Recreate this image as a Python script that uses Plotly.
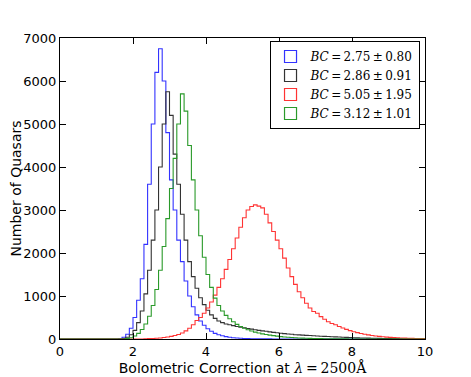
import numpy as np
import plotly.graph_objects as go

# histogram bins: 0.1 wide from 0 to 10
bin_edges = np.round(np.arange(0, 10.01, 0.1), 2)

# counts per bin, bins start at 0.0
blue_counts = [0] * 16 + [
    10, 40, 110, 250, 500, 900, 1400, 2200, 3600, 5000,      # 1.6 - 2.5
    6200, 6750, 6000, 4800, 3700, 3000, 2300, 1800, 1350, 1000,  # 2.6 - 3.5
    750, 560, 420, 320, 240, 180, 130, 100, 75, 55,          # 3.6 - 4.5
    40, 30, 22, 16, 12, 9, 7, 5, 4, 3,                        # 4.6 - 5.5
    2, 2, 1, 1, 1] + [0] * 39
black_counts = [0] * 17 + [
    10, 40, 100, 200, 380, 650, 1050, 1600, 2300, 3000,       # 1.7 - 2.6
    4000, 5000, 5750, 5200, 4300, 3600, 2900, 2300, 1800, 1450,  # 2.7 - 3.6
    1180, 960, 800, 670, 560, 480, 420, 380, 350, 330,        # 3.7 - 4.6
    310, 290, 275, 260, 245, 230, 215, 200, 190, 180,         # 4.7 - 5.6
    165, 155, 145, 135, 125, 118, 110, 100, 95, 90,           # 5.7 - 6.6
    85, 80, 75, 70, 65, 62, 58, 54, 50, 46,                   # 6.7 - 7.6
    42, 38, 34, 30, 27, 24, 22, 20, 18, 16,                   # 7.7 - 8.6
    14, 12, 11, 10, 9, 8, 7, 6, 5, 5,                         # 8.7 - 9.6
    4, 4, 3]
red_counts = [0] * 23 + [
    5, 8, 12, 18, 25, 35, 45, 60, 80, 105,                    # 2.3 - 3.2
    140, 190, 250, 330, 430, 500, 600, 720, 860, 1020,        # 3.3 - 4.2
    1200, 1400, 1620, 1850, 2100, 2350, 2600, 2820, 3000, 3080,  # 4.3 - 5.2
    3120, 3090, 3050, 2900, 2700, 2500, 2300, 2100, 1880, 1650,  # 5.3 - 6.2
    1450, 1270, 1100, 960, 830, 720, 640, 600, 520, 460,      # 6.3 - 7.2
    400, 360, 330, 290, 255, 225, 195, 170, 148, 128,         # 7.3 - 8.2
    110, 95, 82, 70, 60, 51, 44, 38, 33, 28,                  # 8.3 - 9.2
    24, 20, 17, 14, 12, 10, 8, 6]
green_counts = [0] * 18 + [
    10, 30, 70, 130, 220, 350, 530, 780, 1150, 1600,          # 1.8 - 2.7
    2150, 2800, 3500, 4200, 5000, 5700, 5300, 4500, 3700, 3000,  # 2.8 - 3.7
    2400, 1900, 1500, 1200, 950, 780, 650, 550, 470, 400,     # 3.8 - 4.7
    340, 290, 250, 215, 185, 160, 140, 120, 105, 90,          # 4.8 - 5.7
    78, 66, 56, 48, 41, 35, 30, 25, 21, 18,                   # 5.8 - 6.7
    15, 12, 10, 8, 7, 6, 5, 4, 3, 2,                          # 6.8 - 7.7
    2, 1, 1] + [0] * 19

series = [
    ("<i>BC</i>\u2009=\u20092.75\u2009\u00b1\u20090.80", blue_counts, "#3333ff"),
    ("<i>BC</i>\u2009=\u20092.86\u2009\u00b1\u20090.91", black_counts, "#333333"),
    ("<i>BC</i>\u2009=\u20095.05\u2009\u00b1\u20091.95", red_counts, "#ff3333"),
    ("<i>BC</i>\u2009=\u20093.12\u2009\u00b1\u20091.01", green_counts, "#2a9a2a"),
]

fig = go.Figure()
for name, counts, color in series:
    # step outline like matplotlib histtype='step'
    x = list(bin_edges)
    y = list(counts) + [counts[-1]]
    fig.add_trace(go.Scatter(x=[0] + x + [10], y=[0] + y + [0], mode="lines",
                             line=dict(color=color, width=1.1, shape="hv"),
                             showlegend=False, hoverinfo="skip"))
    # empty bar trace only to get an open-box legend patch
    fig.add_trace(go.Bar(x=[None], y=[None], name=name,
                         marker=dict(color="rgba(0,0,0,0)", line=dict(color=color, width=1.2))))

axis_common = dict(showgrid=False, zeroline=False, showline=True, linecolor="black",
                   linewidth=1.3, mirror="ticks", ticks="inside", ticklen=6,
                   tickcolor="black", tickfont=dict(size=13, color="black"),
                   automargin=False)
fig.update_xaxes(range=[0, 10], tickvals=[0, 2, 4, 6, 8, 10], **axis_common,
                 title=dict(text="Bolometric Correction at <span style='font-family:\"DejaVu Serif\"'>"
                                 "<i>λ</i>\u2009=\u20092500Å</span>",
                            font=dict(size=14, color="black"), standoff=2))
fig.update_yaxes(range=[0, 7000], tickvals=list(range(0, 7001, 1000)), **axis_common,
                 title=dict(text="Number of Quasars", font=dict(size=14, color="black"), standoff=4))
# page body adds an 8px offset, so the figure is a little smaller than the window
fig.update_layout(
    width=463, height=369,
    margin=dict(l=52, r=46, t=30, b=38),
    plot_bgcolor="white", paper_bgcolor="white",
    font=dict(family="DejaVu Sans", color="black"),
    legend=dict(x=0.985, xanchor="right", y=0.99, yanchor="top",
                bordercolor="black", borderwidth=1, bgcolor="white",
                font=dict(family="DejaVu Serif", size=12), tracegroupgap=0),
    showlegend=True,
)
fig.write_html("out.html")
